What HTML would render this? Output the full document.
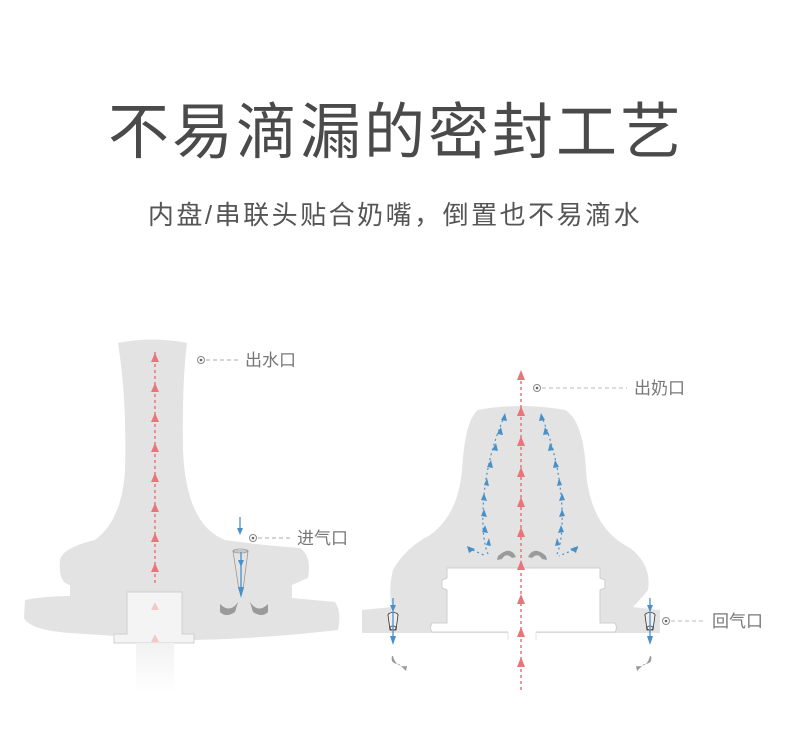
<!DOCTYPE html>
<html><head><meta charset="utf-8"><style>
html,body{margin:0;padding:0;background:#fff;}
svg{display:block}
text{font-family:"Liberation Sans","Noto Sans CJK SC",sans-serif;}
</style></head><body>
<svg width="790" height="734" viewBox="0 0 790 734" xmlns="http://www.w3.org/2000/svg">
<defs>
<linearGradient id="fade" x1="0" y1="0" x2="0" y2="1"><stop offset="0" stop-color="#f2f2f2"/><stop offset="1" stop-color="#fff"/></linearGradient>
</defs>
<text x="396" y="153" font-size="61" fill="#4a4a4a" text-anchor="middle" letter-spacing="3">不易滴漏的密封工艺</text>
<text x="395" y="224" font-size="26" fill="#555" text-anchor="middle" letter-spacing="2.5">内盘/串联头贴合奶嘴，倒置也不易滴水</text>

<!-- LEFT -->
<path d="M118,343 Q152,336 187,343 Q182,380 183,450 Q186,525 225,540 Q260,545 300,548 Q312,556 308,578 L292,585 L292,598 L335,602 Q342,612 338,630 Q250,640 180,640 L70,633 Q30,630 24,618 L25,600 Q45,596 70,596 L70,585 Q58,583 60,560 Q62,548 95,540 Q122,520 125,470 Q127,400 118,343 Z" fill="#e3e3e3"/>
<path d="M127,634 L127,592 L182,592 L182,634 L194,634 L194,643 L114,643 L114,634 Z" fill="#f4f4f4" stroke="#cfcfcf" stroke-width="1"/>
<rect x="136" y="643" width="38" height="50" fill="url(#fade)"/>
<line x1="155" y1="583" x2="155" y2="352" stroke="#e8757a" stroke-width="1.5" stroke-dasharray="3,3"/>
<g fill="#e8757a">
<path d="M151,362 L155,353 L159,362Z"/><path d="M151,392 L155,383 L159,392Z"/><path d="M151,422 L155,413 L159,422Z"/><path d="M151,452 L155,443 L159,452Z"/><path d="M151,482 L155,473 L159,482Z"/><path d="M151,512 L155,503 L159,512Z"/><path d="M151,542 L155,533 L159,542Z"/><path d="M151,572 L155,563 L159,572Z"/>
</g>
<g fill="#f4c8ca"><path d="M151,610 L155,602 L159,610Z"/><path d="M151,642 L155,634 L159,642Z"/></g>
<path d="M233,551 L248,551 L243,590 L239,590 Z" fill="none" stroke="#999" stroke-width="0.8"/>
<ellipse cx="240.5" cy="551" rx="7.5" ry="2" fill="none" stroke="#999" stroke-width="0.8"/>
<g stroke="#4a90c8" stroke-width="1.3"><line x1="240" y1="517" x2="240" y2="530"/><line x1="241" y1="552" x2="241" y2="595"/></g>
<g fill="#4a90c8"><path d="M237,528 L240,535 L243,528Z"/><path d="M238,560 L241,567 L244,560Z"/><path d="M238,587 L241,598 L244,587Z"/></g>
<g fill="#9a9a9a"><path d="M220,604 Q230,614 238,602 L235,612 Q226,618 220,612Z"/><path d="M268,604 Q258,614 250,602 L253,612 Q262,618 268,612Z"/></g>
<circle cx="201" cy="360" r="3.5" fill="none" stroke="#888" stroke-width="1"/><circle cx="201" cy="360" r="1.3" fill="#666"/>
<line x1="206" y1="360" x2="240" y2="360" stroke="#aaa" stroke-dasharray="4,3"/>
<text x="245" y="366" font-size="17" fill="#777">出水口</text>
<circle cx="253" cy="538" r="3.5" fill="none" stroke="#888" stroke-width="1"/><circle cx="253" cy="538" r="1.3" fill="#666"/>
<line x1="258" y1="538" x2="292" y2="538" stroke="#aaa" stroke-dasharray="4,3"/>
<text x="297" y="544" font-size="17" fill="#777">进气口</text>

<!-- RIGHT -->
<path d="M478,410 Q520,402 565,410 Q583,420 586,470 Q590,528 630,548 Q652,565 648,590 Q640,600 633,607 L660,610 L660,633 L362,633 L362,610 L392,607 Q388,590 393,570 Q405,548 430,535 Q458,515 462,470 Q465,420 478,410 Z" fill="#e3e3e3"/>
<path d="M447,623 L447,590 L442,588 L442,580 L447,578 L447,568 L600,568 L600,578 L605,580 L605,588 L600,590 L600,623 L615,623 Q618,628 615,632 L432,632 Q429,628 432,623 Z" fill="#fff" stroke="#cfcfcf" stroke-width="1"/>
<rect x="508" y="631" width="28" height="70" fill="#fff"/>
<line x1="508" y1="632" x2="508" y2="640" stroke="#e6e6e6"/><line x1="536" y1="632" x2="536" y2="640" stroke="#e6e6e6"/>
<line x1="521" y1="690" x2="521" y2="372" stroke="#e8757a" stroke-width="1.5" stroke-dasharray="3,3"/>
<g fill="#e8757a">
<path d="M517,380 L521,370 L525,380Z"/><path d="M517,416 L521,406 L525,416Z"/><path d="M517,446 L521,436 L525,446Z"/><path d="M517,477 L521,467 L525,477Z"/><path d="M517,507 L521,497 L525,507Z"/><path d="M517,537 L521,527 L525,537Z"/><path d="M517,570 L521,560 L525,570Z"/><path d="M517,604 L521,594 L525,604Z"/><path d="M517,637 L521,627 L525,637Z"/><path d="M517,667 L521,657 L525,667Z"/>
</g>
<g stroke="#4a90c8" stroke-width="1.2" stroke-dasharray="2,3" fill="none">
<path d="M488,554 Q482,540 483,510 Q485,460 505,415"/>
<path d="M468,548 L486,556"/>
<path d="M557,554 Q563,540 562,510 Q560,460 541,415"/>
<path d="M578,548 L559,556"/>
</g>
<g fill="#4a90c8">
<path d="M501,420 L505,413 L507,421Z"/><path d="M497,434 L501,427 L503,435Z"/><path d="M492,450 L496,443 L498,451Z"/><path d="M487,467 L491,460 L493,468Z"/><path d="M484,485 L487,478 L489,486Z"/><path d="M481,500 L484,493 L487,501Z"/><path d="M481,516 L484,509 L487,517Z"/><path d="M482,532 L485,525 L488,533Z"/><path d="M486,545 L489,538 L491,546Z"/>
<path d="M545,420 L541,413 L539,421Z"/><path d="M549,434 L545,427 L543,435Z"/><path d="M554,450 L550,443 L548,451Z"/><path d="M559,467 L555,460 L553,468Z"/><path d="M562,485 L559,478 L557,486Z"/><path d="M565,500 L562,493 L559,501Z"/><path d="M565,516 L562,509 L559,517Z"/><path d="M564,532 L561,525 L558,533Z"/><path d="M560,545 L557,538 L555,546Z"/>
<path d="M467,546 L475,549 L469,553Z"/><path d="M578,546 L570,549 L576,553Z"/>
</g>
<g fill="#9a9a9a"><path d="M498,556 Q510,545 516,557 L512,558 Q506,552 502,559 L497,560Z"/><path d="M546,556 Q534,545 528,557 L532,558 Q538,552 542,559 L547,560Z"/></g>
<g stroke="#333" stroke-width="0.8" fill="#eee">
<ellipse cx="393" cy="615" rx="5" ry="2.5"/><path d="M388,615 L390,630 L396,630 L398,615"/><ellipse cx="393" cy="628" rx="3" ry="2"/>
<ellipse cx="650" cy="615" rx="5" ry="2.5"/><path d="M645,615 L647,630 L653,630 L655,615"/><ellipse cx="650" cy="628" rx="3" ry="2"/>
</g>
<g stroke="#4a90c8" stroke-width="1.3"><line x1="393" y1="598" x2="393" y2="640"/><line x1="650" y1="598" x2="650" y2="640"/></g>
<g fill="#4a90c8"><path d="M390,605 L393,612 L396,605Z"/><path d="M390,636 L393,645 L396,636Z"/><path d="M647,605 L650,612 L653,605Z"/><path d="M647,636 L650,645 L653,636Z"/></g>
<g fill="#9a9a9a"><path d="M393,656 Q396,668 407,666 L406,671 L399,664 Q390,664 392,656Z"/><path d="M650,656 Q647,668 636,666 L637,671 L644,664 Q653,664 651,656Z"/></g>
<circle cx="537" cy="388" r="3.5" fill="none" stroke="#888"/><circle cx="537" cy="388" r="1.3" fill="#666"/>
<line x1="542" y1="388" x2="627" y2="388" stroke="#bbb" stroke-dasharray="4,3"/>
<text x="634" y="394" font-size="17" fill="#777">出奶口</text>
<circle cx="666" cy="621" r="3.5" fill="none" stroke="#888"/><circle cx="666" cy="621" r="1.3" fill="#666"/>
<line x1="671" y1="621" x2="706" y2="621" stroke="#bbb" stroke-dasharray="4,3"/>
<text x="712" y="627" font-size="17" fill="#777">回气口</text>
</svg>
</body></html>
